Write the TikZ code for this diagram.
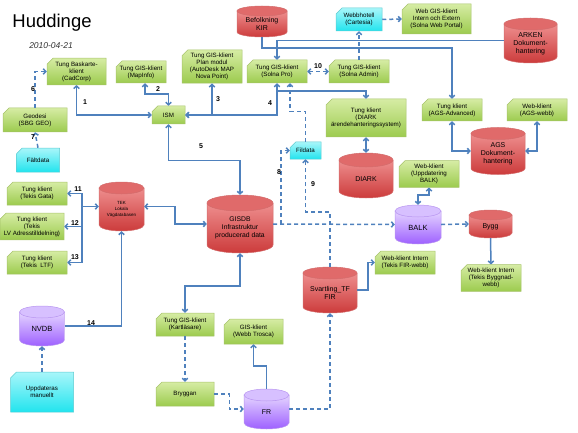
\documentclass[tikz,border=0pt]{standalone}
\usepackage{fontspec}
\setmainfont{Liberation Sans}
\usetikzlibrary{shapes.misc,arrows.meta}
\definecolor{gtop}{HTML}{D6ECA4}
\definecolor{gbot}{HTML}{9CCB4E}
\definecolor{gedge}{HTML}{A6C36A}
\definecolor{ctop}{HTML}{A8F6FA}
\definecolor{cbot}{HTML}{22E4EE}
\definecolor{cedge}{HTML}{5CCBD0}
\definecolor{rtop}{HTML}{EE8E8E}
\definecolor{rbot}{HTML}{CC3B3B}
\definecolor{rcap}{HTML}{E06A6A}
\definecolor{redge}{HTML}{D36C6C}
\definecolor{ptop}{HTML}{E4D4FF}
\definecolor{pbot}{HTML}{9E60FF}
\definecolor{pcap}{HTML}{D7C0FF}
\definecolor{pedge}{HTML}{B895F0}
\definecolor{lnk}{HTML}{4F81BD}
\tikzset{
  snip/.style={chamfered rectangle, chamfered rectangle corners=north west,
    chamfered rectangle xsep=3pt, chamfered rectangle ysep=3pt, inner sep=0.5pt,
    align=center, line width=0.5pt, font=\fontsize{6.2}{6.9}\selectfont},
  gbox/.style={snip, top color=gtop, bottom color=gbot, draw=gedge},
  cbox/.style={snip, top color=ctop, bottom color=cbot, draw=cedge},
  conn/.style={draw=lnk, line width=1.5pt, >={Straight Barb[length=2.5pt,width=5.5pt]}},
  dconn/.style={conn, dash pattern=on 4pt off 3pt},
  num/.style={font=\fontsize{7}{8}\selectfont\bfseries, inner sep=0},
  cyltext/.style={align=center, inner sep=0, font=\fontsize{7}{8}\selectfont},
}
\newcommand\gbx[6]{\node[gbox,minimum width=#4pt,minimum height=#5pt] (#1) at (#2,#3) {#6};}
\newcommand\cbx[6]{\node[cbox,minimum width=#4pt,minimum height=#5pt] (#1) at (#2,#3) {#6};}
\newcommand\dbcyl[9]{%
  \node[inner sep=0,minimum width=#4pt,minimum height=#5pt] (#1) at (#2,#3) {};
  \path[top color=#7top,bottom color=#7bot,draw=#7edge,line width=0.5pt]
    ({#2-#4/2},{#3-#5/2+#6}) -- ({#2-#4/2},{#3+#5/2-#6})
    arc[start angle=180,end angle=360,x radius=#4pt/2,y radius=#6pt]
    -- ({#2+#4/2},{#3-#5/2+#6}) -- cycle;
  \path[fill=#7cap,draw=#7edge,line width=0.5pt] (#2,{#3-#5/2+#6}) ellipse[x radius=#4pt/2,y radius=#6pt];
  \node[cyltext,#8] (#1-t) at (#2,{#3+#6/2}) {#9};
}
\begin{document}
\begin{tikzpicture}[x=1pt,y=-1pt]
\useasboundingbox (0,0) rectangle (578,433);
\node[font=\fontsize{18.5}{20}\selectfont, inner sep=0] (title) at (52,23) {Huddinge};
\node[font=\fontsize{8.5}{10}\selectfont\itshape, inner sep=0, text=black!80] (date) at (51,46) {2010-04-21};

% green boxes
\gbx{baskarte}{76.5}{71.5}{59}{23}{Tung Baskarte-\\klient\\(CadCorp)}
\gbx{mapinfo}{141}{72}{50}{22}{Tung GIS-klient\\(MapInfo)}
\gbx{plan}{212}{66.5}{60}{33}{Tung GIS-klient\\Plan modul\\(AutoDesk MAP\\Nova Point)}
\gbx{solnapro}{277}{71.5}{60}{23}{Tung GIS-klient\\(Solna Pro)}
\gbx{solnaadmin}{359}{71.5}{60}{23}{Tung GIS-klient\\(Solna Admin)}
\gbx{webgis}{436.5}{19}{69}{30}{Web GIS-klient\\Intern och Extern\\(Solna Web Portal)}
\gbx{agsadv}{452}{110}{60}{22}{Tung klient\\(AGS-Advanced)}
\gbx{agswebb}{537}{110}{60}{22}{Web-klient\\(AGS-webb)}
\gbx{diarkkl}{366}{118}{80}{38}{Tung klient\\(DIARK\\ärendehanteringssystem)}
\gbx{ism}{168.5}{115}{33}{18}{ISM}
\gbx{geodesi}{35}{120}{64}{24}{Geodesi\\(SBG GEO)}
\gbx{tgata}{37}{193.5}{60}{23}{Tung klient\\(Tekis Gata)}
\gbx{tlv}{32}{226.5}{64}{25}{Tung klient\\(Tekis\\LV Adresstilldelning)}
\gbx{tltf}{37}{262.5}{60}{23}{Tung klient\\(Tekis\ \ LTF)}
\gbx{uppbalk}{429}{174}{60}{24}{Web-klient\\(Uppdatering\\BALK)}
\gbx{firwebb}{405}{262.5}{60}{23}{Web-klient Intern\\(Tekis FIR-webb)}
\gbx{byggwebb}{491}{278}{60}{24}{Web-klient Intern\\(Tekis Byggnad-\\webb)}
\gbx{kartl}{185}{324.5}{58}{23}{Tung GIS-klient\\(Kartläsare)}
\gbx{webbtr}{253.5}{331.5}{59}{25}{GIS-klient\\(Webb Trosca)}
\gbx{bryggan}{185}{394}{58}{24}{Bryggan}

% cyan boxes
\cbx{webbhotell}{359}{19.5}{46}{23}{Webbhotell\\(Cartesia)}
\cbx{fildata}{305.5}{150.5}{31}{17}{Fildata}
\cbx{faltdata}{38}{160}{43}{24}{Fältdata}
\cbx{uppman}{42}{392}{63}{40}{Uppdateras\\manuellt}

% cylinders
\dbcyl{kir}{262}{21.5}{50}{31}{5}{r}{}{Befolkning\\KIR}
\dbcyl{arken}{530.5}{40.5}{53}{45}{6}{r}{}{ARKEN\\Dokument-\\hantering}
\dbcyl{ags}{498}{151}{54}{47}{6}{r}{}{AGS\\Dokument-\\hantering}
\dbcyl{diark}{366}{175.5}{54}{45}{7}{r}{}{DIARK}
\dbcyl{tek}{121.5}{206.5}{45}{49}{6}{r}{font=\fontsize{4.5}{6}\selectfont}{TEK\\Lokala\\Vägdatabasen}
\dbcyl{gisdb}{240}{224}{66}{58}{8}{r}{font=\fontsize{6.8}{8.2}\selectfont}{GISDB\\Infrastruktur\\producerad data}
\dbcyl{balk}{418}{224.5}{46}{39}{6}{p}{font=\fontsize{7.5}{8}\selectfont}{BALK}
\dbcyl{bygg}{490.5}{224}{43}{28}{5}{r}{}{Bygg}
\dbcyl{svart}{330}{290}{54}{46}{6}{r}{}{Svartling\_TF\\FIR}
\dbcyl{fr}{266.5}{409}{45}{40}{6}{p}{}{FR}
\dbcyl{nvdb}{42}{326}{45}{40}{6}{p}{font=\fontsize{7.5}{8}\selectfont}{NVDB}

% connectors
\draw[conn,<->] (ism.west) -| (baskarte.south);
\draw[conn,<->] ([xshift=4pt]mapinfo.south) -- ++(0,11) -| (ism.north);
\draw[conn,<->] (ism.east) -| (plan.south);
\draw[conn,<->] (ism.east) -| (solnapro.south);
\draw[conn,->] (solnapro.south) ++(0,8) -| (diarkkl.north);
\draw[conn,<->] (diarkkl.south) -- (diark.north);
\draw[conn,->] (kir.south) -- ++(0,11) -| (agsadv.north);
\draw[conn,->] (arken.west) -| (solnapro.north);
\draw[dconn,->] (solnaadmin.north) -- (webbhotell.south);
\draw[dconn,->] (webbhotell.east) -- (webgis.west);
\draw[dconn,<->] (solnapro.east) -- (solnaadmin.west);
\draw[conn,<->] (agsadv.south) |- (ags.west);
\draw[conn,<->] (agswebb.south) |- (ags.east);
\draw[dconn,->] (fildata.north) -- ++(0,-30) -| ([xshift=13pt]solnapro.south);
\draw[dconn,->] (gisdb.east) -- (balk.west);
\draw[dconn,->] (gisdb.east) ++(8,0) |- (fildata.west);
\draw[dconn,->] (svart.north) -- ++(0,-55) -| (fildata.south);
\draw[dconn,->] (balk.east) -- (bygg.west);
\draw[conn,<->] (balk.north) -- ++(0,-10) -| (uppbalk.south);
\draw[conn,->] (bygg.south) -- (byggwebb.north);
\draw[conn,->] (svart.east) -- ++(11,0) |- (firwebb.west);
\draw[dconn,->] (fr.east) -| (svart.south);
\draw[dconn,->] (bryggan.east) -- ++(15,0) |- (fr.west);
\draw[conn,->] (fr.north) -- ++(0,-23) -| (webbtr.south);
\draw[dconn,->] (kartl.south) -- (bryggan.north);
\draw[conn,<->] (gisdb.south) -- ++(0,33) -| (kartl.north);
\draw[conn,<->] (ism.south) -- ++(0,36) -| (gisdb.north);
\draw[conn,<->] (tek.east) -- ++(31,0) |- (gisdb.west);
\draw[conn,->] (nvdb.east) -| (tek.south);
\draw[dconn,->] (uppman.north) -- (nvdb.south);
\draw[conn,->] (tek.west) ++(-17,0) -- (tek.west);
\draw[conn,->] (tek.west) ++(-17,0) |- (tgata.east);
\draw[conn,->] (tek.west) ++(-17,0) |- (tlv.east);
\draw[conn,->] (tek.west) ++(-17,0) |- (tltf.east);
\draw[dconn,->] (geodesi.north) |- (baskarte.west);
\draw[dconn,->] (faltdata.north) -- (geodesi.south);

% numbers
\node[num] (l1) at (85,102) {1};
\node[num] (l2) at (158,89) {2};
\node[num] (l3) at (218,99) {3};
\node[num] (l4) at (270,103) {4};
\node[num] (l5) at (201,146) {5};
\node[num] (l6) at (33,89) {6};
\node[num] (l7) at (33,137) {7};
\node[num] (l8) at (279,172) {8};
\node[num] (l9) at (313,184) {9};
\node[num] (l10) at (318,66) {10};
\node[num] (l11) at (78,189) {11};
\node[num] (l12) at (75,223) {12};
\node[num] (l13) at (75,257) {13};
\node[num] (l14) at (91,323) {14};
\end{tikzpicture}
\end{document}
